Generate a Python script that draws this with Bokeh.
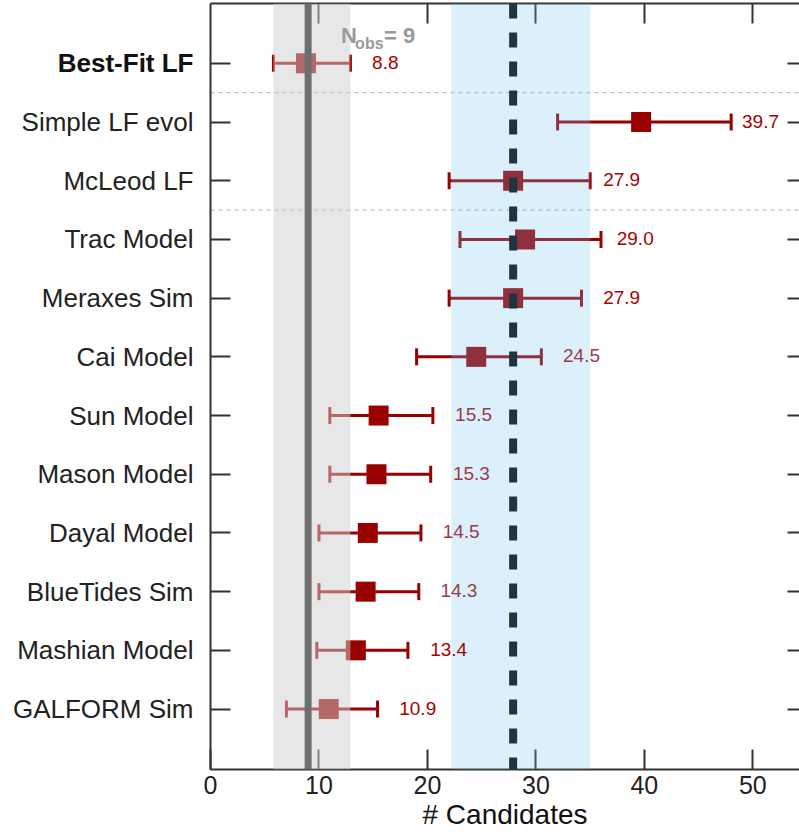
import numpy as np
from bokeh.plotting import figure
from bokeh.layouts import row
from bokeh.models import (ColumnDataSource, FixedTicker, LinearAxis, Range1d,
                          BoxAnnotation, Span, Label, LabelSet)
from bokeh.core.properties import value
from bokeh.embed import file_html
from bokeh.resources import INLINE

# Predicted number of candidates per model, with its 1-sigma range
models = ["Best-Fit LF", "Simple LF evol", "McLeod LF", "Trac Model", "Meraxes Sim",
          "Cai Model", "Sun Model", "Mason Model", "Dayal Model", "BlueTides Sim",
          "Mashian Model", "GALFORM Sim"]
predicted = [8.8, 39.7, 27.9, 29.0, 27.9, 24.5, 15.5, 15.3, 14.5, 14.3, 13.4, 10.9]
lower = [5.8, 32.0, 22.0, 23.0, 22.0, 19.0, 11.0, 11.0, 10.0, 10.0, 9.8, 7.0]
upper = [12.9, 48.0, 35.0, 36.0, 34.2, 30.5, 20.5, 20.3, 19.4, 19.2, 18.2, 15.4]

# Observed count and its range; mean model prediction and its range
n_obs = 9
obs_range = [5.8, 12.9]
pred_mean = 27.9
pred_range = [22.2, 35.0]

x_ticks = [0, 10, 20, 30, 40, 50]

# rows whose group ends below them (thin dashed separators)
group_ends = ["Best-Fit LF", "McLeod LF"]
# value labels drawn in the softer red
soft_labels = {"Cai Model", "Sun Model", "Mason Model", "Dayal Model", "BlueTides Sim"}
# gap between upper whisker and value label, in data units
label_gap = [2.0, 1.0, 1.2, 1.45, 2.0, 2.0, 2.05, 2.05, 2.0, 2.0, 2.05, 2.0]

FONT = "Liberation Sans"
RED = "#990000"
AXIS_COLOR = "#333333"
TOP, BOTTOM = 3, 66          # borders shared by the name column and the plot

rows = list(range(len(models), 0, -1))
src = ColumnDataSource(dict(
    row=rows,
    name=models,
    pred=predicted,
    lo=lower,
    hi=upper,
    text=[f"{v:.1f}" for v in predicted],
    tx=[u + g for u, g in zip(upper, label_gap)],
    tcolor=["#9a3b4b" if m in soft_labels else "#a80000" for m in models],
    style=["bold" if m == "Best-Fit LF" else "normal" for m in models],
    ncolor=["#111111" if m == "Best-Fit LF" else "#222222" for m in models],
))

yrange = Range1d(-0.03, 13.02)

# ---- main panel -----------------------------------------------------------
p = figure(width=599, height=835,
           x_range=Range1d(0, 54.3), y_range=yrange,
           output_backend="svg", toolbar_location=None,
           min_border_left=10, min_border_right=0,
           min_border_top=TOP, min_border_bottom=BOTTOM)
p.grid.visible = False
p.outline_line_color = None

# left axis: ticks only, names sit in their own column
yax = p.yaxis[0]
yax.ticker = FixedTicker(ticks=rows)
yax.major_label_overrides = {r: "" for r in rows}
yax.major_label_standoff = 0
yax.major_tick_in = 20
yax.major_tick_out = 0
yax.minor_tick_line_color = None
yax.axis_line_width = 2
yax.axis_line_color = AXIS_COLOR
yax.major_tick_line_width = 2
yax.major_tick_line_color = AXIS_COLOR

# bottom axis
xax = p.xaxis[0]
xax.ticker = FixedTicker(ticks=x_ticks)
xax.axis_label = "# Candidates"
xax.axis_label_text_font = FONT
xax.axis_label_text_font_size = "28px"
xax.axis_label_text_font_style = "normal"
xax.axis_label_text_color = "#111111"
xax.axis_label_standoff = 2
xax.major_label_text_font = FONT
xax.major_label_text_font_size = "25px"
xax.major_label_text_color = "#222222"
xax.major_label_standoff = 6
xax.major_tick_in = 20
xax.major_tick_out = 0
xax.minor_tick_line_color = None
xax.axis_line_width = 2
xax.axis_line_color = AXIS_COLOR
xax.major_tick_line_width = 2
xax.major_tick_line_color = AXIS_COLOR

# top and right frame axes, ticks only
top_ticks = x_ticks[1:]
top = LinearAxis(ticker=FixedTicker(ticks=top_ticks),
                 major_label_overrides={t: "" for t in top_ticks}, major_label_standoff=0,
                 major_tick_in=20, major_tick_out=0, minor_tick_line_color=None,
                 axis_line_width=2, axis_line_color=AXIS_COLOR,
                 major_tick_line_width=2, major_tick_line_color=AXIS_COLOR)
p.add_layout(top, "above")
right = LinearAxis(ticker=FixedTicker(ticks=rows),
                   major_label_overrides={r: "" for r in rows}, major_label_standoff=0,
                   major_tick_in=12, major_tick_out=0, minor_tick_line_color=None,
                   axis_line_color=None,
                   major_tick_line_width=2, major_tick_line_color=AXIS_COLOR)
p.add_layout(right, "right")

# group separators
for r, m in zip(rows, models):
    if m in group_ends:
        p.add_layout(Span(location=r - 0.5, dimension="width", line_color="#aaaaaa",
                          line_width=1, line_dash="4 4", level="underlay"))

# error bars with caps, then the predicted value
p.segment(x0="lo", y0="row", x1="hi", y1="row", source=src, line_color=RED, line_width=3)
p.scatter(x="lo", y="row", source=src, marker="dash", size=17, angle=np.pi / 2,
          line_color=RED, line_width=3)
p.scatter(x="hi", y="row", source=src, marker="dash", size=17, angle=np.pi / 2,
          line_color=RED, line_width=3)
p.scatter(x="pred", y="row", source=src, marker="square", size=20,
          fill_color=RED, line_color=None)

# observed range and mean-prediction range, laid over the marks
p.add_layout(BoxAnnotation(left=obs_range[0], right=obs_range[1], fill_color="#d0d0d0",
                           fill_alpha=0.5, line_color=None, level="annotation"))
p.add_layout(BoxAnnotation(left=pred_range[0], right=pred_range[1], fill_color="#73c3ef",
                           fill_alpha=0.25, line_color=None, level="annotation"))

p.add_layout(Span(location=n_obs, dimension="height", line_color="#6e6e6e",
                  line_width=7, level="overlay"))
p.add_layout(Span(location=pred_mean, dimension="height", line_color="#1e3440",
                  line_width=8, line_dash="15 14", level="overlay"))

# value labels
p.add_layout(LabelSet(x="tx", y="row", text="text", source=src, text_color="tcolor",
                      text_font=value(FONT), text_font_size=value("19px"),
                      text_baseline="middle", text_align="left", y_offset=1,
                      level="overlay"))

# N_obs = 9 tag at the top of the observed line
GREY = "#9a9a9a"
ytop = yrange.end
p.add_layout(Label(x=n_obs, y=ytop, text="N", x_offset=33, y_offset=-31.5,
                   text_align="left", text_baseline="alphabetic", text_font=FONT,
                   text_font_size="22px", text_font_style="bold", text_color=GREY,
                   level="overlay"))
p.add_layout(Label(x=n_obs, y=ytop, text="obs", x_offset=47, y_offset=-39.5,
                   text_align="left", text_baseline="alphabetic", text_font=FONT,
                   text_font_size="16px", text_font_style="bold", text_color=GREY,
                   level="overlay"))
p.add_layout(Label(x=n_obs, y=ytop, text=f"= {n_obs}", x_offset=76, y_offset=-31.5,
                   text_align="left", text_baseline="alphabetic", text_font=FONT,
                   text_font_size="22px", text_font_style="bold", text_color=GREY,
                   level="overlay"))

# ---- model-name column, sharing the row scale -----------------------------
names = figure(width=200, height=835, x_range=Range1d(0, 1), y_range=yrange,
               output_backend="svg", toolbar_location=None,
               x_axis_location=None, y_axis_location=None,
               min_border_left=0, min_border_right=0,
               min_border_top=TOP, min_border_bottom=BOTTOM)
names.grid.visible = False
names.outline_line_color = None
names.text(x=1, y="row", text="name", source=src, x_offset=-7,
           text_align="right", text_baseline="middle",
           text_font=value(FONT), text_font_size=value("26px"),
           text_font_style="style", text_color="ncolor")

layout = row(names, p, spacing=0)
open("out.html", "w").write(file_html(layout, INLINE))
